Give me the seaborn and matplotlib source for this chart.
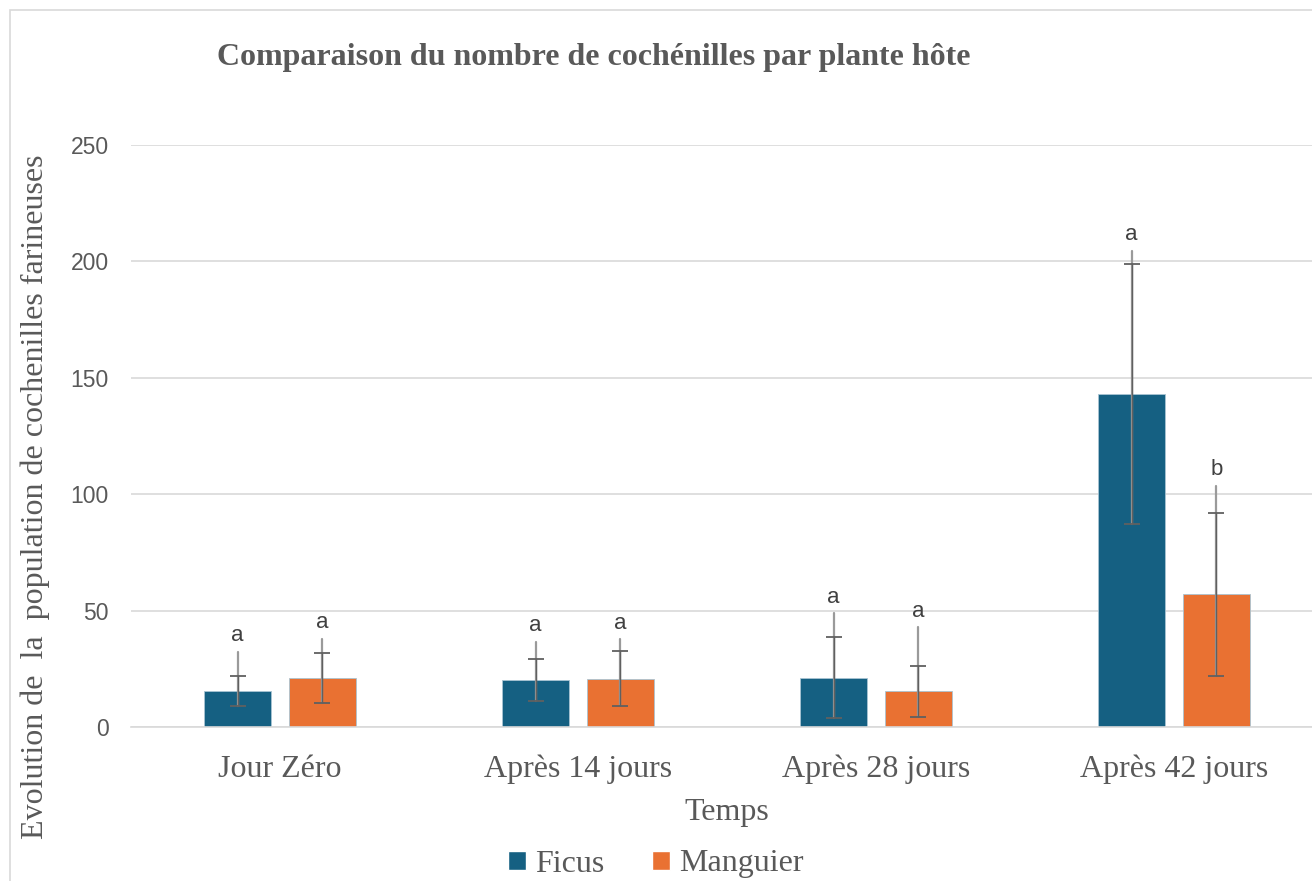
import pandas as pd
import numpy as np
import matplotlib
matplotlib.use("Agg")
import matplotlib.pyplot as plt
from matplotlib.patches import Patch, Rectangle
import seaborn as sns

# Data
categories = ["Jour Zéro", "Après 14 jours", "Après 28 jours", "Après 42 jours"]
ficus = [15.5, 20.0, 21.2, 143.0]
manguier = [20.9, 20.8, 15.3, 57.1]
ficus_err = [6.4, 9.0, 17.5, 56.0]
manguier_err = [10.8, 11.8, 11.0, 35.0]
# upper end of the light grey whisker lines
ficus_top = [32.3, 36.6, 48.8, 204.5]
manguier_top = [37.8, 37.7, 42.8, 103.7]
ficus_letters = ["a", "a", "a", "a"]
manguier_letters = ["a", "a", "a", "b"]

BLUE = "#156082"
ORANGE = "#E97132"
TEXT = "#595959"
GRID = "#D9D9D9"

sns.set_theme(style="white")
plt.rcParams["font.family"] = ["Liberation Serif", "DejaVu Serif"]

df = pd.DataFrame({
    "Temps": categories * 2,
    "Plante": ["Ficus"] * 4 + ["Manguier"] * 4,
    "Nombre": ficus + manguier,
})

fig = plt.figure(figsize=(13.12, 8.81), dpi=100)
ax = fig.add_axes([131 / 1312, 1 - 727 / 881, 1192 / 1312, (727 - 145) / 881])

sns.barplot(data=df, x="Temps", y="Nombre", hue="Plante",
            palette=[BLUE, ORANGE], saturation=1, width=0.57, gap=0.21,
            errorbar=None, legend=False, ax=ax,
            edgecolor="#A9C4D2", linewidth=0.6)

series = [(ficus, ficus_err, ficus_top, ficus_letters),
          (manguier, manguier_err, manguier_top, manguier_letters)]
for container, (vals, errs, tops, letters) in zip(ax.containers, series):
    xs = [b.get_x() + b.get_width() / 2 for b in container]
    for x, v, e, t, lab in zip(xs, vals, errs, tops, letters):
        ax.plot([x, x], [v - e, t], color="#9A9A9A", lw=1.6, zorder=3)
        ax.annotate(lab, (x, t), xytext=(0, 4), textcoords="offset points",
                    ha="center", va="bottom", fontsize=16,
                    family="Liberation Sans", color="#404040")
    ax.errorbar(xs, vals, yerr=errs, fmt="none", ecolor="#606060",
                elinewidth=1.0, capsize=6, capthick=1.3, zorder=4)

ax.set_xlim(-0.5, 3.5)
ax.set_ylim(0, 250)
ax.set_yticks([0, 50, 100, 150, 200, 250])
ax.yaxis.grid(True, color=GRID, lw=1.2)
ax.set_axisbelow(True)
for s in ["top", "right", "left"]:
    ax.spines[s].set_visible(False)
ax.spines["bottom"].set_color(GRID)
ax.spines["bottom"].set_linewidth(1.2)
ax.tick_params(axis="both", length=0)
ax.tick_params(axis="y", labelsize=16.5, labelcolor=TEXT, pad=16)
ax.tick_params(axis="x", labelsize=23, labelcolor=TEXT, pad=20)
for lab in ax.get_yticklabels():
    lab.set_family("Liberation Sans")
ax.set_xlabel("Temps", fontsize=23, color=TEXT, labelpad=10)
ax.set_ylabel("")

fig.text(35 / 1312, 1 - 497 / 881,
         "Evolution de  la  population de cochenilles farineuses",
         rotation=90, ha="center", va="center", fontsize=23, color=TEXT)

fig.text(594 / 1312, 1 - 58 / 881,
         "Comparaison du nombre de cochénilles par plante hôte",
         ha="center", va="center", fontsize=23, fontweight="bold", color=TEXT)

handles = [Patch(facecolor=BLUE, label="Ficus"),
           Patch(facecolor=ORANGE, label="Manguier")]
leg = fig.legend(handles=handles, loc="center",
                 bbox_to_anchor=(656 / 1312, 1 - 864 / 881), ncol=2,
                 frameon=False, fontsize=23, handlelength=0.55,
                 handleheight=0.55, handletextpad=0.3, columnspacing=1.5)
for t in leg.get_texts():
    t.set_color(TEXT)

# chart area frame
fig.add_artist(Rectangle((10 / 1312, -0.1), 1.2, 1 - 10 / 881 + 0.1,
                         transform=fig.transFigure, fill=False,
                         edgecolor=GRID, lw=1.2))

fig.savefig("out.png", dpi=100)
